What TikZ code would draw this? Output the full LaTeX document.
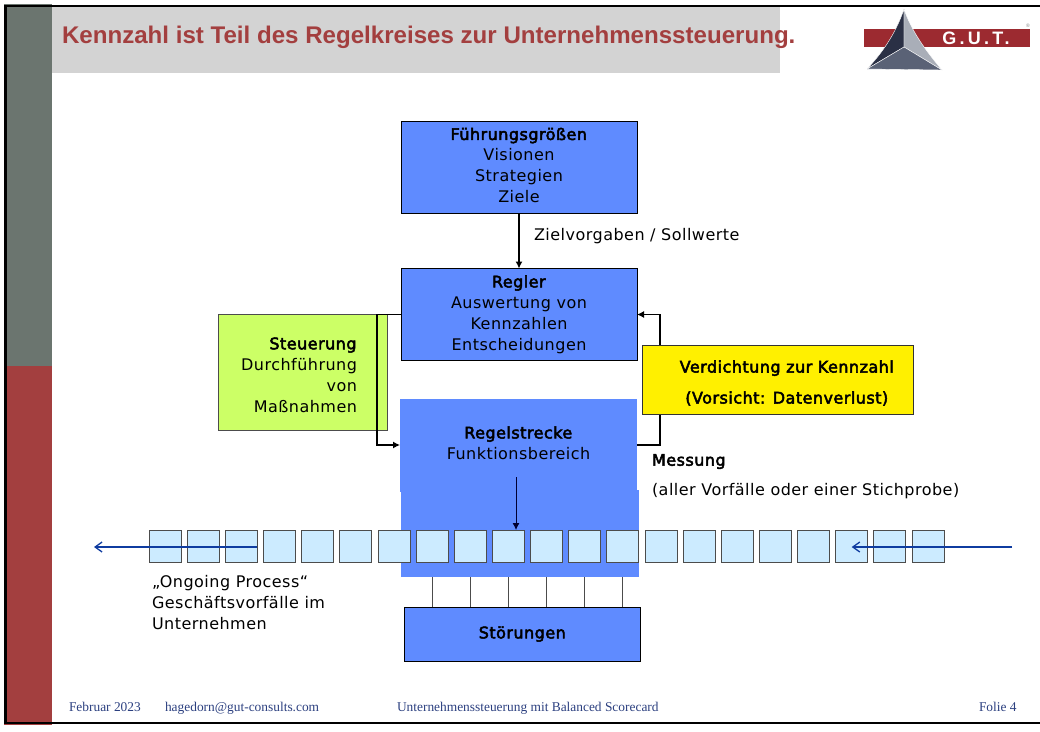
\documentclass[tikz,border=0pt]{standalone}
\usepackage{fontspec}
\setmainfont[LetterSpace=3,BoldFont=DejaVu Sans,BoldFeatures={FakeBold=3}]{DejaVu Sans}
\newfontfamily\titelfont{Liberation Sans}
\newfontfamily\logofont[LetterSpace=18]{Liberation Sans}
\newfontfamily\fussfont{Liberation Serif}
\usetikzlibrary{positioning,chains,arrows.meta}
\definecolor{blaukasten}{HTML}{5F8BFF}
\definecolor{gruenkasten}{HTML}{CCFF66}
\definecolor{gelbkasten}{HTML}{FFF000}
\definecolor{zelle}{HTML}{CCEBFF}
\definecolor{balkengrau}{HTML}{6B756F}
\definecolor{balkenrot}{HTML}{A33F3F}
\definecolor{titelgrau}{HTML}{D3D3D3}
\definecolor{fussblau}{HTML}{2B3F7F}
\definecolor{pfeilblau}{HTML}{0F3CA0}
\definecolor{logorot}{HTML}{9C2A30}
\definecolor{logodunkel}{HTML}{2A3045}
\definecolor{logohell}{HTML}{A9AEB8}
\definecolor{logomitte}{HTML}{5A6276}
\begin{document}
\begin{tikzpicture}[x=1pt,y=-1pt,
    every node/.style={inner sep=0pt,outer sep=0pt,text=black,
      font=\fontsize{16}{21}\selectfont},
    kasten/.style={draw=black,line width=.8pt,fill=blaukasten,align=center,
      minimum width=236pt},
    zellbox/.style={on chain,draw=black!70,line width=.8pt,fill=zelle,
      minimum size=32pt},
    spitze/.style={-{Latex[length=7pt,width=7pt]},line width=1.2pt},
    bluepfeil/.style={-{Straight Barb[length=7pt,width=10pt]},draw=pfeilblau,line width=1.3pt},
    fuss/.style={anchor=base west,text=fussblau,font=\fussfont\fontsize{13.4}{15}\selectfont}]
  \useasboundingbox (0,0) rectangle (1040,731);
  % Folienrahmen
  \fill[balkengrau] (4,4) rectangle (52,366);
  \fill[balkenrot] (4,366) rectangle (52,725);
  \fill[titelgrau] (52,7) rectangle (780,73);
  \draw[line width=2.4pt] (1040,6) -- (5.5,6) -- (5.5,723) -- (1040,723);
  \node[anchor=west,text=balkenrot,font=\titelfont\bfseries\fontsize{24.1}{28}\selectfont]
    (titel) at (62,37.5) {Kennzahl ist Teil des Regelkreises zur Unternehmenssteuerung.};
  % Logo
  \fill[logorot] (864,29) rectangle (1030,47);
  \fill[logodunkel,draw=white,line width=.4pt] (904,9) -- (904,47) -- (867,69) .. controls (885,50) and (897,30) .. (904,9);
  \fill[logohell,draw=white,line width=.4pt] (904,9) -- (904,47) -- (942,70) .. controls (925,50) and (911,30) .. (904,9);
  \fill[logomitte,draw=white,line width=.4pt] (904,47) -- (942,70) -- (867,69) -- cycle;
  \node[text=white,font=\logofont\bfseries\fontsize{18}{18}\selectfont] (logo) at (976,38.5) {G.U.T.};
  \node[text=black!50,font=\titelfont\fontsize{5}{5}\selectfont] (marke) at (1028,26) {®};
  % Kaesten
  \node[kasten,minimum height=92pt] (fuehrung) at (519,167) {};
  \node[align=center] (fuehrungtext) at (519,165.5)
    {\textbf{Führungsgrößen}\\Visionen\\Strategien\\Ziele};
  \node[kasten,minimum height=92pt] (regler) at (519,314.5)
    {\textbf{Regler}\\Auswertung von\\Kennzahlen\\Entscheidungen};
  \node[draw=black!70,line width=.8pt,fill=gruenkasten,minimum width=169pt,minimum height=116pt]
    (steuerung) at (302.5,372) {};
  \node[anchor=east,align=right] (steuerungtext) at (357,375)
    {\textbf{Steuerung}\\Durchführung\\von\\Maßnahmen};
  \node[fill=blaukasten,minimum width=238pt,minimum height=87pt] (prozess) at (519.5,533.5) {};
  \node[fill=blaukasten,minimum width=237pt,minimum height=93pt,anchor=north]
    (strecke) at (518.5,399) {};
  \node[align=center] (streckentext) at (518.5,443) {\textbf{Regelstrecke}\\Funktionsbereich};
  \node[kasten,minimum height=54pt] (stoerungen) at (522.5,634) {\textbf{Störungen}};
  % Verbindungen
  \draw[spitze] (fuehrung) -- (regler);
  \node[anchor=west] (sollwerte) at (534,236.5) {Zielvorgaben / Sollwerte};
  \coordinate (rechts) at (660,445);
  \draw[spitze] (strecke.east |- rechts) -- (rechts) |- (regler.east);
  \node[draw=black!80,line width=.8pt,fill=gelbkasten,minimum width=271pt,minimum height=69pt]
    (verdichtung) at (777.5,379.5) {};
  \node[align=center,font=\fontsize{16}{31}\selectfont] (verdichtungtext) at (787,383)
    {\textbf{Verdichtung zur Kennzahl}\\\textbf{(Vorsicht: Datenverlust)}};
  \coordinate (links) at (377,445);
  \draw[spitze] (regler.west) -- (links |- regler.west) -- (links) -- (strecke.west |- links);
  \node[anchor=west] (messung) at (652,461.5) {\textbf{Messung}};
  \node[anchor=west] (stichprobe) at (652,491.5) {(aller Vorfälle oder einer Stichprobe)};
  % Prozesskette
  \begin{scope}[start chain=going right,node distance=6.15pt]
    \node[zellbox] (c1) at (165,546) {};
    \foreach \i in {2,...,21}
      \node[zellbox] (c\i) {};
  \end{scope}
  \foreach \i in {8,...,13}
    \draw[black!70,line width=1pt] (c\i |- prozess.south) -- (c\i |- stoerungen.north);
  \coordinate (innen) at (516,477);
  \draw[-{Latex[length=7pt,width=7pt]},draw=black!80!blue,line width=.9pt] (innen) -- (innen |- c10.north);
  \coordinate (ausgang) at (94,547);
  \coordinate (eingang) at (1012,547);
  \draw[bluepfeil] (c3.east |- ausgang) -- (ausgang);
  \draw[bluepfeil] (eingang) -- (c19.center |- eingang);
  \node[anchor=north west,align=left] (ongoing) at (152,575.5)
    {„Ongoing Process“\\Geschäftsvorfälle im\\Unternehmen};
  % Fusszeile
  \node[fuss] (datum) at (69,711) {Februar 2023};
  \node[fuss] (mail) at (165,711) {hagedorn@gut-consults.com};
  \node[fuss] (thema) at (397,711) {Unternehmenssteuerung mit Balanced Scorecard};
  \node[fuss] (folie) at (979,711) {Folie 4};
\end{tikzpicture}
\end{document}
